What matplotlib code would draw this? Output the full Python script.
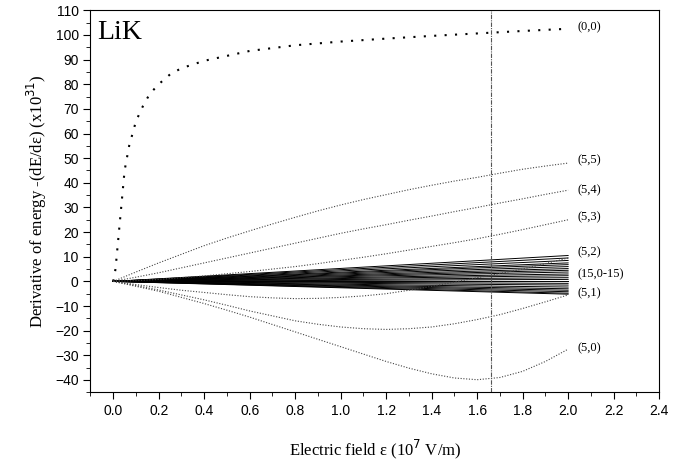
import matplotlib
matplotlib.use("Agg")
import matplotlib.pyplot as plt
from matplotlib.ticker import MultipleLocator
import numpy as np

plt.rcParams["font.family"] = "Liberation Sans"

# field values (10^7 V/m)
x00 = [0.0, 0.01, 0.02, 0.035, 0.05, 0.07, 0.1, 0.13, 0.16, 0.2, 0.25, 0.3, 0.4, 0.5,
       0.6, 0.8, 1.0, 1.2, 1.4, 1.6, 1.8, 2.0]
y00 = [0.0, 5, 15, 30, 45, 55, 65, 71, 76, 80, 84, 86.5, 89.5, 91.5,
       93.5, 95.8, 97.3, 98.5, 99.6, 100.6, 101.6, 102.5]

xs = [0.0, 0.1, 0.2, 0.3, 0.4, 0.5, 0.6, 0.7, 0.8, 0.9, 1.0, 1.1, 1.2, 1.3, 1.4,
      1.5, 1.6, 1.7, 1.8, 1.9, 2.0]
y55 = [0.0, 3.8, 7.5, 11, 14.5, 17.6, 20.5, 23.3, 26, 28.6, 31, 33.2, 35.2, 37.2, 39,
       40.7, 42.2, 43.9, 45.5, 46.8, 48]
y54 = [0.0, 1.7, 3.5, 5.5, 7.5, 9.5, 11.5, 13.5, 15.5, 17.5, 19.5, 21.3, 23, 24.8, 26.5,
       28.3, 30, 31.8, 33.5, 35.3, 37]
y53 = [0.0, 0.3, 0.8, 1.5, 2.2, 3.1, 4, 5, 6, 7.2, 8.5, 9.8, 11.2, 12.7, 14.2,
       15.7, 17.3, 19.1, 21, 23, 25]
y52 = [0.0, -1.3, -2.5, -3.6, -4.5, -5.4, -6.2, -6.7, -7, -6.9, -6.5, -5.9, -5, -3.6, -2,
       -0.3, 1.5, 3.2, 5, 7.2, 9.5]
y51 = [0.0, -1.7, -3.5, -5.5, -7.5, -9.7, -12, -14, -16, -17.4, -18.5, -19.2, -19.5, -19.2, -18.5,
       -17.2, -15.5, -13.5, -11, -8.3, -5.5]
y50 = [0.0, -2, -4, -6.5, -9, -11.7, -14.5, -17.5, -20.5, -23.5, -26.5, -29.5, -32.5, -35.2, -37.5,
       -39.2, -39.9, -39, -36.5, -32.5, -27.5]

fan_end = [10.5, 9.5, 8.5, 7.5, 6.8, 6.0, 5.2, 4.5, 3.8, 3.0, 2.3, 1.5, 0.8, 0.0,
           -0.8, -1.5, -2.3, -3.0, -3.6, -4.2, -4.8, -5.2]

labels = ["(0,0)", "(5,5)", "(5,4)", "(5,3)", "(5,2)", "(15,0-15)", "(5,1)", "(5,0)"]
label_y = [103, 49, 37, 26, 12, 3, -5, -27]

fig, ax = plt.subplots(figsize=(6.96, 4.67), dpi=100)
fig.subplots_adjust(left=0.13, right=0.947, top=0.978, bottom=0.16)

for e in fan_end:
    ax.plot([0, 2.0], [0, e], color="black", lw=0.7)

ax.plot(x00, y00, color="black", lw=1.5, ls=(0, (1, 4)))
for yy in [y55, y54, y53, y52, y51, y50]:
    ax.plot(xs, yy, color="#444444", lw=0.8, ls=(0, (1, 1.5)))

ax.axvline(1.66, color="#555555", lw=0.8, ls=(0, (4, 1, 1, 1)))

for lab, ly in zip(labels, label_y):
    ax.text(2.04, ly, lab, fontsize=9, family="Liberation Serif", va="center")

ax.text(-0.07, 101, "LiK", fontsize=20, family="Liberation Serif", va="center")

ax.set_xlim(-0.1, 2.4)
ax.set_ylim(-45, 110)
ax.xaxis.set_minor_locator(MultipleLocator(0.1))
ax.yaxis.set_minor_locator(MultipleLocator(5))
ax.set_xticks(np.arange(0, 2.41, 0.2))
ax.set_yticks(np.arange(-40, 111, 10))
ax.tick_params(which="both", direction="out", labelsize=10)
ax.tick_params(which="major", length=5)
ax.tick_params(which="minor", length=3)

ax.set_xlabel("Electric field \u03b5 (10$^{7}$ V/m)", family="Liberation Serif", fontsize=12, labelpad=14)
ax.set_ylabel("Derivative of energy -(dE/d\u03b5) (x10$^{31}$)", family="Liberation Serif", fontsize=12)

plt.savefig("out.png")
